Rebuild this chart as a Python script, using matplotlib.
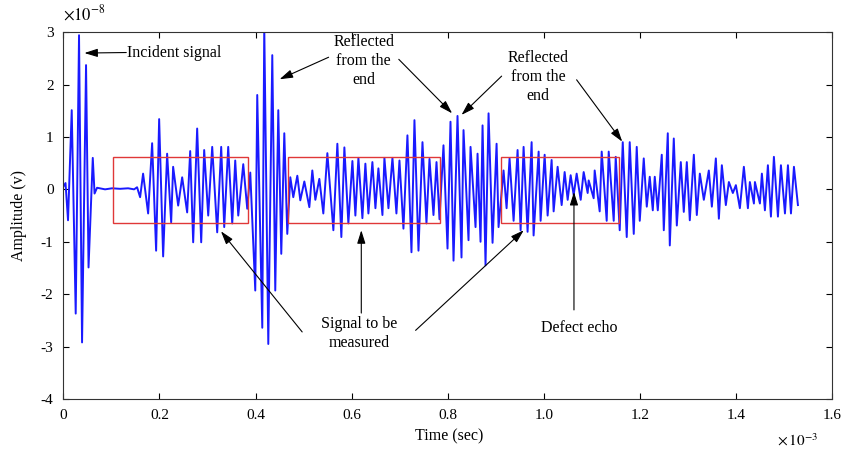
import numpy as np
import matplotlib
matplotlib.use("Agg")
import matplotlib.pyplot as plt
from matplotlib.patches import Rectangle

plt.rcParams["font.family"] = ["Liberation Serif", "DejaVu Serif"]
plt.rcParams["mathtext.fontset"] = "stix"
plt.rcParams["axes.unicode_minus"] = False

# time in units of 1e-3 s, amplitude in units of 1e-8 V

# near-zero stretch between the incident burst and the first echoes
quiet_t = [0.0, 0.0702, 0.0869, 0.1015, 0.1181, 0.1348, 0.1473, 0.1535]
quiet_v = [0.05, 0.03, 0.0, 0.02, 0.01, 0.02, 0.0, 0.04]

# positive peaks of the received waveform
upper_t = [0.0046, 0.0175, 0.0327, 0.0473, 0.0613,
           0.1660, 0.1848, 0.1994, 0.2160, 0.2285, 0.2473, 0.2640, 0.2785, 0.2931, 0.3098,
           0.3285, 0.3431, 0.3577, 0.3744, 0.3890, 0.4035, 0.4181, 0.4348, 0.4473, 0.4598,
           0.4723, 0.4869, 0.5015, 0.5181, 0.5327, 0.5494, 0.5702, 0.5848, 0.6015, 0.6140,
           0.6285, 0.6431, 0.6556, 0.6681, 0.6848, 0.6994, 0.7160, 0.7306, 0.7473, 0.7619,
           0.7765, 0.7910, 0.8056, 0.8202, 0.8327, 0.8473, 0.8619, 0.8723, 0.8848, 0.9015,
           0.9160, 0.9285, 0.9452, 0.9577, 0.9744, 0.9890, 1.0015, 1.0160, 1.0285, 1.0431,
           1.0556, 1.0681, 1.0827, 1.0931, 1.1056, 1.1202, 1.1348, 1.1494, 1.1640, 1.1785,
           1.1931, 1.2077, 1.2202, 1.2306, 1.2452, 1.2577, 1.2702, 1.2848, 1.2973, 1.3119,
           1.3244, 1.3431, 1.3577, 1.3702, 1.3848, 1.3994, 1.4160, 1.4285, 1.4390, 1.4535,
           1.4660, 1.4785, 1.4931, 1.5077, 1.5202]
upper_v = [0.12, 1.51, 2.94, 2.37, 0.60,
           0.30, 0.88, 1.34, 0.68, 0.43, 0.23, 0.73, 1.16, 0.75, 0.81,
           0.81, 0.81, 0.55, 0.48, 0.32, 1.80, 3.10, 2.56, 1.51, 1.07,
           0.23, 0.26, 0.15, 0.36, 0.20, 0.69, 0.87, 0.80, 0.54, 0.60,
           0.49, 0.52, 0.40, 0.60, 0.60, 0.55, 1.03, 1.32, 0.90, 0.58,
           0.52, 0.84, 1.29, 1.40, 1.13, 0.81, 0.68, 1.22, 1.45, 0.87,
           0.36, 0.59, 0.75, 0.81, 0.90, 0.72, 0.66, 0.56, 0.43, 0.33,
           0.27, 0.30, 0.33, 0.17, 0.36, 0.72, 0.72, 0.62, 0.90, 0.90,
           0.81, 0.59, 0.24, 0.24, 0.66, 1.07, 0.97, 0.52, 0.52, 0.66,
           0.30, 0.36, 0.59, 0.46, 0.14, 0.08, 0.43, 0.14, 0.14, 0.30,
           0.46, 0.62, 0.46, 0.46, 0.43]

# negative peaks of the received waveform
lower_t = [0.0098, 0.0258, 0.0390, 0.0525, 0.0650,
           0.1598, 0.1765, 0.1931, 0.2077, 0.2244, 0.2390, 0.2577, 0.2702, 0.2869, 0.3015,
           0.3202, 0.3348, 0.3515, 0.3640, 0.3827, 0.3994, 0.4140, 0.4265, 0.4410, 0.4535,
           0.4660, 0.4785, 0.4931, 0.5119, 0.5244, 0.5410, 0.5619, 0.5785, 0.5931, 0.6077,
           0.6223, 0.6348, 0.6494, 0.6640, 0.6765, 0.6931, 0.7077, 0.7244, 0.7390, 0.7556,
           0.7702, 0.7827, 0.7994, 0.8119, 0.8285, 0.8431, 0.8577, 0.8681, 0.8785, 0.8931,
           0.9056, 0.9223, 0.9369, 0.9515, 0.9660, 0.9785, 0.9931, 1.0077, 1.0202, 1.0369,
           1.0494, 1.0619, 1.0765, 1.0910, 1.1035, 1.1160, 1.1306, 1.1452, 1.1577, 1.1723,
           1.1869, 1.1994, 1.2140, 1.2265, 1.2369, 1.2494, 1.2619, 1.2765, 1.2910, 1.3035,
           1.3181, 1.3327, 1.3494, 1.3640, 1.3785, 1.3931, 1.4077, 1.4244, 1.4369, 1.4494,
           1.4598, 1.4723, 1.4869, 1.5015, 1.5140, 1.5285]
lower_v = [-0.59, -2.37, -2.92, -1.49, -0.08,
           -0.15, -0.46, -1.17, -1.28, -0.63, -0.31, -0.44, -1.01, -1.01, -0.50,
           -0.82, -0.72, -0.65, -0.50, -0.37, -1.93, -2.64, -2.95, -1.93, -1.23,
           -0.85, -0.15, -0.21, -0.34, -0.20, -0.46, -0.78, -0.91, -0.65, -0.50,
           -0.55, -0.46, -0.36, -0.49, -0.36, -0.46, -0.75, -1.20, -1.17, -0.65,
           -0.49, -0.57, -1.13, -1.36, -1.30, -0.97, -0.72, -1.00, -1.45, -1.02,
           -0.72, -0.36, -0.60, -0.78, -0.81, -0.88, -0.60, -0.50, -0.42, -0.30,
           -0.20, -0.11, -0.20, -0.07, -0.17, -0.42, -0.60, -0.60, -0.78, -0.91,
           -0.85, -0.60, -0.33, -0.40, -0.40, -0.78, -1.07, -0.69, -0.43, -0.59,
           -0.49, -0.20, -0.33, -0.56, -0.30, -0.07, -0.36, -0.36, -0.27, -0.27,
           -0.40, -0.52, -0.52, -0.46, -0.46, -0.30]

# measurement windows
box_start = [0.104, 0.467, 0.911]
box_end = [0.384, 0.783, 1.156]
box_low, box_high = -0.64, 0.62

xticks = [0, 0.2, 0.4, 0.6, 0.8, 1.0, 1.2, 1.4, 1.6]
xtick_labels = ["0", "0.2", "0.4", "0.6", "0.8", "1.0", "1.2", "1.4", "1.6"]
yticks = [-4, -3, -2, -1, 0, 1, 2, 3]

# merge all samples into one time-ordered trace
t = np.concatenate([quiet_t, upper_t, lower_t])
v = np.concatenate([quiet_v, upper_v, lower_v])
order = np.argsort(t)
t, v = t[order], v[order]

fig = plt.figure(figsize=(8.43, 4.55), dpi=100)
ax = fig.add_axes([0.0751, 0.123, 0.9122, 0.8065])

ax.plot(t, v, color="#1a1aff", lw=1.4)

for x0, x1 in zip(box_start, box_end):
    ax.add_patch(Rectangle((x0, box_low), x1 - x0, box_high - box_low,
                           fill=False, edgecolor="#e03838", lw=1.0, zorder=3))

ax.set_xlim(0, 1.6)
ax.set_ylim(-4, 3)
ax.set_xticks(xticks)
ax.set_xticklabels(xtick_labels)
ax.set_yticks(yticks)
ax.set_yticklabels([str(y) for y in yticks])
ax.tick_params(direction="in", top=True, right=True, length=4, width=0.8,
               labelsize=11, pad=7)
for s in ax.spines.values():
    s.set_linewidth(0.8)
    s.set_color("#333333")

fig.text(0.0747, 0.969, r"$\times10^{-8}$", fontsize=12, ha="left", va="center")
fig.text(0.922, 0.033, r"$\times\,10^{-3}$", fontsize=11, ha="left", va="center")
fig.text(0.533, 0.040, "Time (sec)", fontsize=11.5, ha="center", va="center")
fig.text(0.022, 0.527, "Amplitude (v)", fontsize=11.5, ha="center", va="center",
         rotation=90)

arrow = dict(arrowstyle="-|>,head_length=0.8,head_width=0.25", color="black",
             lw=0.8, shrinkA=0, shrinkB=0)


def pointer(tip, start):
    ax.annotate("", xy=tip, xytext=start, arrowprops=arrow)


ax.text(0.132, 2.61, "Incident signal", fontsize=11.5, ha="left", va="center")
pointer((0.0438, 2.60), (0.131, 2.61))

ax.text(0.625, 2.45, "Reflected\nfrom the\nend", fontsize=11.5, ha="center",
        va="center", linespacing=1.25)
pointer((0.450, 2.10), (0.552, 2.52))
pointer((0.809, 1.45), (0.698, 2.48))

ax.text(0.988, 2.15, "Reflected\nfrom the\nend", fontsize=11.5, ha="center",
        va="center", linespacing=1.25)
pointer((0.8285, 1.42), (0.912, 2.16))
pointer((1.163, 0.91), (1.068, 2.09))

ax.text(0.615, -2.75, "Signal to be\nmeasured", fontsize=11.5, ha="center",
        va="center", linespacing=1.3)
pointer((0.328, -0.80), (0.497, -2.72))
pointer((0.620, -0.78), (0.620, -2.36))
pointer((0.958, -0.78), (0.733, -2.69))

ax.text(1.073, -2.65, "Defect echo", fontsize=11.5, ha="center", va="center")
pointer((1.0625, -0.05), (1.0625, -2.30))

fig.savefig("out.png", dpi=100)
